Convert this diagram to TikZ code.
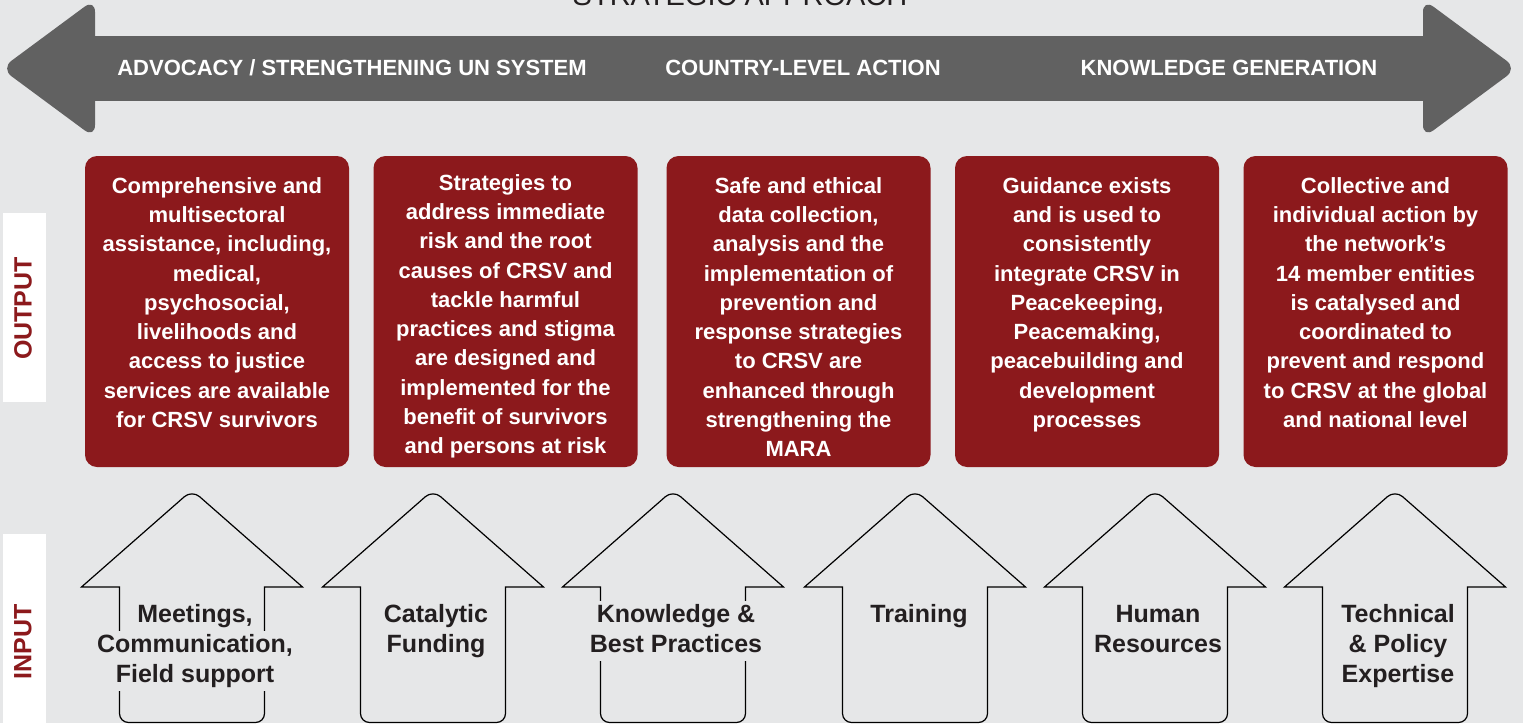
\documentclass[tikz,border=0pt]{standalone}
\usepackage{fontspec}
\setmainfont{Liberation Sans}
\definecolor{bgc}{HTML}{E6E7E8}
\definecolor{arrowgray}{HTML}{616161}
\definecolor{crsvred}{HTML}{8C191C}
\definecolor{inktext}{HTML}{231F20}
\setlength{\fboxsep}{2pt}
\newcommand{\inl}[1]{\colorbox{bgc}{\rule[-6pt]{0pt}{26pt}#1}}
\tikzset{
  outbox/.style={draw=none, fill=crsvred, rounded corners=12pt, minimum width=264pt, minimum height=311pt, inner sep=0pt},
  outtext/.style={text=white, font=\fontsize{22}{29.3}\selectfont\bfseries, align=center, inner sep=0pt, anchor=north},
  headtext/.style={text=white, font=\fontsize{22}{26}\selectfont\bfseries, inner sep=0pt, anchor=base},
  inarrow/.style={draw=black, line width=1.2pt, line join=miter},
  intext/.style={text=inktext, font=\fontsize{25}{30}\selectfont\bfseries, align=center, inner sep=0pt, anchor=north},
  sidebox/.style={fill=white, draw=none, inner sep=0pt},
  sidetext/.style={text=crsvred, font=\fontsize{25}{30}\selectfont\bfseries, rotate=90, inner sep=0pt, anchor=center}
}
\begin{document}
\begin{tikzpicture}[x=1pt, y=-1pt]
\useasboundingbox (0,0) rectangle (1523,723);
\clip (0,0) rectangle (1523,723);
\fill[bgc] (0,0) rectangle (1523,723);

% title (cut off at top, as in the reference)
\node[text=inktext, font=\fontsize{29}{32}\selectfont, inner sep=0pt, anchor=base] (title) at (740,5.5) {STRATEGIC APPROACH};

% double-headed strategic arrow
\fill[arrowgray, rounded corners=13pt] (95,-1) -- (1,68.5) -- (95,138) -- cycle;
\fill[arrowgray, rounded corners=13pt] (1423,-1) -- (1517,68.5) -- (1423,138) -- cycle;
\fill[arrowgray] (90,36) rectangle (1428,101);
\node[headtext] (s1) at (352,75) {ADVOCACY / STRENGTHENING UN SYSTEM};
\node[headtext] (s2) at (803,75) {COUNTRY-LEVEL ACTION};
\node[headtext] (s3) at (1229,75) {KNOWLEDGE GENERATION};

% side labels
\node[sidebox, minimum width=43pt, minimum height=189pt] (outbg) at (24.5,307.5) {};
\node[sidetext] (outlbl) at (23,308.5) {OUTPUT};
\node[sidebox, minimum width=43pt, minimum height=200pt] (inbg) at (24.5,634) {};
\node[sidetext] (inlbl) at (23,641.5) {INPUT};

% output boxes
\node[outbox] (o1) at (217,311.5) {};
\node[outbox] (o2) at (505.5,311.5) {};
\node[outbox] (o3) at (798.5,311.5) {};
\node[outbox] (o4) at (1087,311.5) {};
\node[outbox] (o5) at (1375.5,311.5) {};

\node[outtext] (t1) at (217,177) {Comprehensive and\\multisectoral\\assistance, including,\\medical,\\psychosocial,\\livelihoods and\\access to justice\\services are available\\for CRSV survivors};
\node[outtext] (t2) at (505.5,174) {Strategies to\\address immediate\\risk and the root\\causes of CRSV and\\tackle harmful\\practices and stigma\\are designed and\\implemented for the\\benefit of survivors\\and persons at risk};
\node[outtext] (t3) at (798.5,177) {Safe and ethical\\data collection,\\analysis and the\\implementation of\\prevention and\\response strategies\\to CRSV are\\enhanced through\\strengthening the\\MARA};
\node[outtext] (t4) at (1087,177) {Guidance exists\\and is used to\\consistently\\integrate CRSV in\\Peacekeeping,\\Peacemaking,\\peacebuilding and\\development\\processes};
\node[outtext] (t5) at (1375.5,177) {Collective and\\individual action by\\the network’s\\14 member entities\\is catalysed and\\coordinated to\\prevent and respond\\to CRSV at the global\\and national level};

% input arrows
\foreach \c in {192,433,673,915,1155,1395} {
  \draw[inarrow] (\c-110.5,587) [rounded corners=10pt] -- (\c,490) [sharp corners] -- (\c+110.5,587) -- (\c+72.5,587) [rounded corners=9pt] -- (\c+72.5,722.5) -- (\c-72.5,722.5) [sharp corners] -- (\c-72.5,587) -- cycle;
}
\node[intext] (i1) at (195,600.5) {\inl{Meetings,}\\\inl{Communication,}\\\inl{Field support}};
\node[intext] (i2) at (436,600.5) {\inl{Catalytic}\\\inl{Funding}};
\node[intext] (i3) at (676,600.5) {\inl{Knowledge \&}\\\inl{Best Practices}};
\node[intext] (i4) at (919,600.5) {\inl{Training}};
\node[intext] (i5) at (1158,600.5) {\inl{Human}\\\inl{Resources}};
\node[intext] (i6) at (1398,600.5) {\inl{Technical}\\\inl{\& Policy}\\\inl{Expertise}};
\end{tikzpicture}
\end{document}
